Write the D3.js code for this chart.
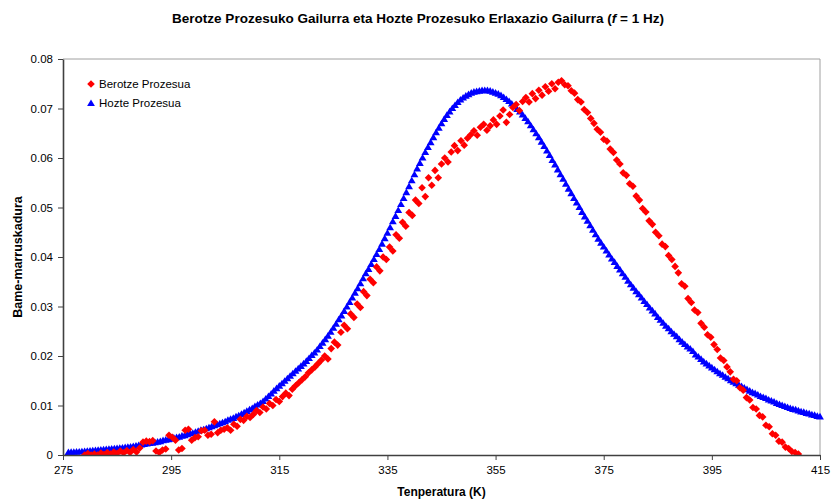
<!DOCTYPE html>
<html>
<head>
<meta charset="utf-8">
<script src="https://cdn.jsdelivr.net/npm/d3@7"></script>
<style>
  body { margin: 0; background: #fff; }
  svg { font-family: "Liberation Sans", Arial, sans-serif; }
</style>
</head>
<body>
<svg id="chart" width="833" height="499"></svg>
<script>
// Hozte Prozesua: sampled every 0.5 K from 276 to 415
const hozteStart = 276, hozteStep = 0.5;
const hozteValues = [
  .0006,.00063,.00065,.00068,.0007,.00075,.0008,.00085,.0009,.00095,
  .001,.00105,.0011,.00115,.0012,.00125,.0013,.00135,.0014,.00145,
  .0015,.00158,.00165,.00172,.0018,.0019,.002,.0021,.0022,.0023,
  .0024,.0025,.0026,.0027,.0028,.0030,.0031,.0032,.0033,.0035,
  .0036,.0037,.0039,.0040,.0042,.0044,.0045,.0047,.0049,.0051,
  .0052,.0054,.0056,.0058,.0060,.0062,.0064,.0066,.0068,.0071,
  .0073,.0075,.0078,.0080,.0083,.0086,.0089,.0092,.0095,.0099,
  .0102,.0105,.0109,.0114,.0119,.0124,.0130,.0135,.0140,.0145,
  .0150,.0155,.0160,.0165,.0170,.0175,.0180,.0185,.0190,.0196,
  .0202,.0207,.0213,.0220,.0227,.0234,.0241,.0249,.0257,.0265,
  .0274,.0282,.0291,.0300,.0309,.0318,.0328,.0337,.0347,.0357,
  .0367,.0376,.0386,.0396,.0406,.0416,.0427,.0438,.0449,.0460,
  .0472,.0483,.0495,.0507,.0519,.0531,.0543,.0555,.0567,.0579,
  .0590,.0601,.0612,.0622,.0632,.0642,.0652,.0661,.0670,.0679,
  .0687,.0694,.0701,.0707,.0713,.0718,.0722,.0726,.0729,.0732,
  .0734,.0735,.0736,.0737,.0737,.0737,.0736,.0734,.0732,.0730,
  .0727,.0723,.0719,.0715,.0710,.0705,.0699,.0694,.0688,.0681,
  .0674,.0666,.0658,.0650,.0642,.0633,.0624,.0615,.0606,.0596,
  .0587,.0577,.0567,.0558,.0548,.0538,.0529,.0519,.0510,.0501,
  .0491,.0482,.0473,.0464,.0455,.0446,.0437,.0429,.0421,.0413,
  .0405,.0397,.0390,.0382,.0375,.0367,.0360,.0352,.0345,.0338,
  .0331,.0325,.0318,.0311,.0305,.0298,.0292,.0286,.0279,.0273,
  .0267,.0261,.0256,.0250,.0245,.0240,.0234,.0229,.0224,.0219,
  .0215,.0210,.0203,.0199,.0194,.0189,.0185,.0181,.0177,.0173,
  .0169,.0165,.0162,.0158,.0155,.0151,.0148,.0145,.0142,.0139,
  .0136,.0133,.0130,.0127,.0125,.0122,.0119,.0117,.0115,.0112,
  .0110,.0108,.0105,.0103,.0101,.0099,.0097,.0095,.0093,.0092,
  .0090,.0088,.0087,.0085,.0084,.0082,.0081,.0079,.0078
];

// Berotze Prozesua: measured temperatures and values
const berotzeTemp = [
  279.0,279.6,280.2,280.8,281.4,282.0,282.6,283.2,283.8,284.4,
  285.0,285.6,286.2,286.8,287.4,288.0,288.6,289.2,289.8,290.4,
  291.0,291.6,292.2,292.8,293.4,294.0,294.6,295.2,295.8,296.4,
  297.0,297.6,298.2,298.8,299.4,300.0,300.6,301.2,301.8,302.4,
  303.0,303.6,304.2,304.8,305.4,306.0,306.6,307.2,307.8,308.4,
  309.0,309.6,310.2,310.8,311.4,312.0,312.6,313.2,313.8,314.4,
  315.0,315.6,316.2,316.8,317.4,318.0,318.6,319.2,319.8,320.4,
  321.0,321.6,322.2,322.8,323.4,324.0,324.6,325.2,325.8,326.4,
  327.0,327.6,328.2,328.8,329.4,330.0,330.6,331.2,331.8,332.4,
  333.0,333.6,334.2,334.8,335.4,336.0,336.6,337.2,337.8,338.4,
  339.0,339.6,340.2,340.8,341.4,342.0,342.6,343.2,343.8,344.4,
  345.0,345.6,346.2,346.8,347.4,348.0,348.6,349.2,349.8,350.4,
  351.0,351.6,352.2,352.8,353.4,354.0,354.6,355.2,355.8,356.4,
  357.0,357.6,358.2,358.8,359.4,360.0,360.6,361.2,361.8,362.4,
  363.0,363.6,364.2,364.8,365.4,366.0,366.6,367.2,367.8,368.4,
  369.0,369.6,370.2,370.8,371.4,372.0,372.6,373.2,373.8,374.4,
  375.0,375.6,376.2,376.8,377.4,378.0,378.6,379.2,379.8,380.4,
  381.0,381.6,382.2,382.8,383.4,384.0,384.6,385.2,385.8,386.4,
  387.0,387.6,388.2,388.8,389.4,390.0,390.6,391.2,391.8,392.4,
  393.0,393.6,394.2,394.8,395.4,396.0,396.6,397.2,397.8,398.4,
  399.0,399.6,400.2,400.8,401.4,402.0,402.6,403.2,403.8,404.4,
  405.0,405.6,406.2,406.8,407.4,408.0,408.6,409.2,409.8,410.4,
  411.0
];
const berotzeValues = [
  .0000,.0003,.0000,.0002,.0000,.0004,.0001,.0005,.0002,.0006,
  .0003,.0008,.0004,.0009,.0005,.0011,.0006,.0014,.0026,.0028,
  .0027,.0029,.0008,.0005,.0010,.0012,.0040,.0036,.0030,.0010,
  .0013,.0050,.0052,.0030,.0035,.0037,.0049,.0050,.0040,.0042,
  .0067,.0045,.0050,.0052,.0055,.0050,.0062,.0058,.0072,.0070,
  .0078,.0076,.0082,.0090,.0086,.0097,.0093,.0104,.0100,.0112,
  .0108,.0118,.0125,.0120,.0133,.0140,.0146,.0152,.0158,.0166,
  .0172,.0178,.0185,.0192,.0200,.0194,.0215,.0228,.0222,.0248,
  .0262,.0255,.0285,.0278,.0305,.0298,.0330,.0322,.0355,.0348,
  .0380,.0372,.0400,.0395,.0420,.0412,.0445,.0438,.0470,.0462,
  .0490,.0484,.0515,.0508,.0540,.0522,.0560,.0545,.0575,.0560,
  .0588,.0600,.0592,.0612,.0625,.0615,.0635,.0626,.0640,.0647,
  .0655,.0646,.0662,.0668,.0656,.0665,.0677,.0668,.0685,.0697,
  .0672,.0688,.0702,.0708,.0696,.0714,.0722,.0713,.0730,.0720,
  .0737,.0727,.0744,.0735,.0750,.0740,.0753,.0756,.0748,.0746,
  .0736,.0731,.0718,.0713,.0698,.0692,.0680,.0670,.0658,.0652,
  .0638,.0634,.0618,.0611,.0596,.0588,.0570,.0565,.0548,.0543,
  .0523,.0515,.0498,.0491,.0473,.0466,.0450,.0443,.0426,.0421,
  .0403,.0395,.0381,.0368,.0346,.0341,.0316,.0308,.0293,.0288,
  .0266,.0258,.0243,.0238,.0223,.0213,.0196,.0191,.0178,.0168,
  .0153,.0150,.0136,.0131,.0116,.0111,.0096,.0093,.0080,.0077,
  .0060,.0057,.0043,.0040,.0028,.0026,.0016,.0013,.0007,.0005,
  .0002
];

const xTicks = [275, 295, 315, 335, 355, 375, 395, 415];
const yTicks = [0, 0.01, 0.02, 0.03, 0.04, 0.05, 0.06, 0.07, 0.08];

const hozte = hozteValues.map((v, i) => ({ t: hozteStart + i * hozteStep, v }));
const berotze = berotzeTemp.map((t, i) => ({ t, v: berotzeValues[i] }));

const svg = d3.select("#chart");
const plot = { left: 63, right: 820, top: 59, bottom: 455 };

const x = d3.scaleLinear().domain([275, 415]).range([plot.left, plot.right]);
const y = d3.scaleLinear().domain([0, 0.08]).range([plot.bottom, plot.top]);

// frame (top/right grey)
svg.append("path")
  .attr("d", `M${plot.left},${plot.top}H${plot.right}V${plot.bottom}`)
  .attr("fill", "none")
  .attr("stroke", "#a0a0a0")
  .attr("stroke-width", 1);

svg.append("defs").append("clipPath").attr("id", "clip")
  .append("rect")
  .attr("x", plot.left).attr("y", plot.top - 4)
  .attr("width", plot.right - plot.left + 4)
  .attr("height", plot.bottom - plot.top + 4);

const marks = svg.append("g").attr("clip-path", "url(#clip)");

const triangle = "M0,-3.6L3.9,3L-3.9,3Z";
const diamond = "M0,-3.8L3.8,0L0,3.8L-3.8,0Z";

marks.append("g").selectAll("path")
  .data(hozte)
  .enter()
  .append("path")
  .attr("d", triangle)
  .attr("transform", d => `translate(${x(d.t)},${y(d.v)})`)
  .attr("fill", "#0000ff");

marks.append("g").selectAll("path")
  .data(berotze)
  .enter()
  .append("path")
  .attr("d", diamond)
  .attr("transform", d => `translate(${x(d.t)},${y(d.v)})`)
  .attr("fill", "#ff0000");

// axes
const xAxis = svg.append("g")
  .attr("transform", `translate(0,${plot.bottom})`)
  .call(d3.axisBottom(x).tickValues(xTicks).tickSize(5).tickSizeOuter(0).tickPadding(6));

const yAxis = svg.append("g")
  .attr("transform", `translate(${plot.left},0)`)
  .call(d3.axisLeft(y).tickValues(yTicks).tickSize(5).tickSizeOuter(0).tickPadding(5)
    .tickFormat(d => d === 0 ? "0" : d3.format(".2f")(d)));

[xAxis, yAxis].forEach(g => {
  g.select(".domain").attr("stroke", "#404040").attr("stroke-width", 1.6);
  g.selectAll(".tick line").attr("stroke", "#404040").attr("stroke-width", 1);
  g.selectAll(".tick text").attr("fill", "#000").style("font-size", "11.5px")
    .style("font-family", "'Liberation Sans', Arial, sans-serif");
});

// title
const title = svg.append("text")
  .attr("x", 418).attr("y", 23)
  .attr("text-anchor", "middle")
  .style("font-size", "13.5px")
  .style("font-weight", "bold");
title.append("tspan").text("Berotze Prozesuko Gailurra eta Hozte Prozesuko Erlaxazio Gailurra (");
title.append("tspan").style("font-style", "italic").text("f");
title.append("tspan").text(" = 1 Hz)");

svg.append("text")
  .attr("x", (plot.left + plot.right) / 2).attr("y", 496)
  .attr("text-anchor", "middle")
  .style("font-size", "12px")
  .style("font-weight", "bold")
  .text("Tenperatura (K)");

svg.append("text")
  .attr("transform", `translate(22,${(plot.top + plot.bottom) / 2}) rotate(-90)`)
  .attr("text-anchor", "middle")
  .style("font-size", "12.5px")
  .style("font-weight", "bold")
  .text("Bame-marruskadura");

// legend
const legend = svg.append("g").attr("transform", "translate(91,84)");
const legendItems = [
  { name: "Berotze Prozesua", shape: diamond, color: "#ff0000" },
  { name: "Hozte Prozesua", shape: triangle, color: "#0000ff" }
];
legendItems.forEach((item, i) => {
  const row = legend.append("g").attr("transform", `translate(0,${i * 19})`);
  row.append("path").attr("d", item.shape).attr("fill", item.color);
  row.append("text").attr("x", 8).attr("y", 4)
    .style("font-size", "11.5px")
    .text(item.name);
});
</script>
</body>
</html>
